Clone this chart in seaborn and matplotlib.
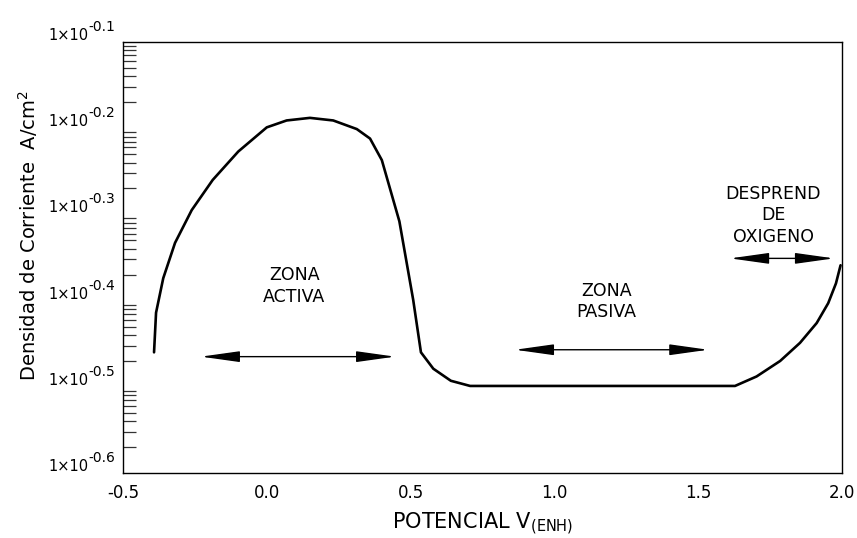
import numpy as np
import pandas as pd
import matplotlib
matplotlib.use("Agg")
import matplotlib.pyplot as plt
import seaborn as sns

# curve: potential (V) and exponent of the current density
potencial = [-0.392, -0.385, -0.360, -0.319, -0.261, -0.188, -0.099, 0.000, 0.069, 0.150,
             0.231, 0.313, 0.359, 0.400, 0.461, 0.509, 0.536, 0.579, 0.640, 0.707,
             1.628, 1.703, 1.785, 1.854, 1.912, 1.952, 1.979, 1.995]
log_corriente = [-0.460, -0.414, -0.374, -0.333, -0.295, -0.260, -0.227, -0.199, -0.191, -0.188,
                 -0.191, -0.201, -0.212, -0.237, -0.308, -0.399, -0.460, -0.479, -0.493, -0.499,
                 -0.499, -0.488, -0.470, -0.449, -0.426, -0.403, -0.380, -0.359]

x_ticks = [-0.5, 0.0, 0.5, 1.0, 1.5, 2.0]
x_labels = ["-0.5", "0.0", "0.5", "1.0", "1.5", "2.0"]
y_ticks = [-0.1, -0.2, -0.3, -0.4, -0.5, -0.6]
y_exps = ["-0.1", "-0.2", "-0.3", "-0.4", "-0.5", "-0.6"]

# zones: (text, text x, text y, arrow start, arrow end, arrow y)
zonas = [
    ("ZONA\nACTIVA", 0.096, -0.383, -0.229, 0.446, -0.465),
    ("ZONA\nPASIVA", 1.182, -0.401, 0.863, 1.535, -0.457),
    ("DESPREND\nDE\nOXIGENO", 1.761, -0.301, 1.611, 1.972, -0.351),
]

sns.set_style("white")
plt.rcParams["font.family"] = ["DejaVu Sans"]
plt.rcParams["mathtext.fontset"] = "dejavusans"
plt.rcParams["text.color"] = "black"
plt.rcParams["axes.labelcolor"] = "black"
plt.rcParams["xtick.color"] = "black"
plt.rcParams["ytick.color"] = "black"

df = pd.DataFrame({"V": potencial, "logj": log_corriente})

fig = plt.figure(figsize=(8.57, 5.38), dpi=100)
ax = fig.add_axes([0.1435, 0.1208, 0.839, 0.8011])

sns.lineplot(data=df, x="V", y="logj", sort=False, color="black", linewidth=1.9, ax=ax)

ax.set_xlim(-0.5, 2.0)
ax.set_ylim(-0.6, -0.1)

ax.set_xticks(x_ticks)
ax.set_xticklabels(x_labels, fontsize=12)
ax.tick_params(axis="x", length=0, pad=8)

# labels drawn by hand so the exponent can be large, baseline on the value
ax.set_yticks(y_ticks)
ax.set_yticklabels([""] * len(y_ticks))
ax.tick_params(axis="y", which="major", length=0)
for val, ex in zip(y_ticks, y_exps):
    ax.annotate("1\u00d710", xy=(0, val), xycoords=("axes fraction", "data"),
                xytext=(-24.5, 1.5), textcoords="offset points",
                ha="right", va="baseline", fontsize=10.5)
    ax.annotate(ex, xy=(0, val), xycoords=("axes fraction", "data"),
                xytext=(-25, 8), textcoords="offset points",
                ha="left", va="baseline", fontsize=10)

# log-like minor ticks inside every 0.1 step
minor = []
for base in y_ticks[1:]:
    for k in range(2, 10):
        minor.append(base + 0.1 * np.log10(k))
ax.set_yticks(minor, minor=True)
ax.tick_params(axis="y", which="minor", left=True, direction="in",
               length=9.5, width=0.9, color="#333333")

for sp in ax.spines.values():
    sp.set_visible(True)
    sp.set_color("black")
    sp.set_linewidth(1.0)

ax.set_xlabel(r"POTENCIAL V$_{\mathrm{(ENH)}}$", fontsize=15)
ax.xaxis.set_label_coords(0.5, -0.117)
ax.xaxis.label.set_verticalalignment("center")
ax.set_ylabel(r"Densidad de Corriente  A/cm$^2$", fontsize=14)
ax.yaxis.set_label_coords(-0.115, 0.552)
ax.yaxis.label.set_verticalalignment("bottom")
ax.grid(False)

for texto, tx, ty, x0, x1, ya in zonas:
    ax.text(tx, ty, texto, ha="center", va="center", fontsize=12.5, linespacing=1.25)
    ax.annotate("", xy=(x1, ya), xytext=(x0, ya),
                arrowprops=dict(arrowstyle="<|-|>,head_length=2.0,head_width=0.28",
                                color="black", lw=1.0, shrinkA=0, shrinkB=0,
                                mutation_scale=12))

fig.savefig("out.png", dpi=100)
